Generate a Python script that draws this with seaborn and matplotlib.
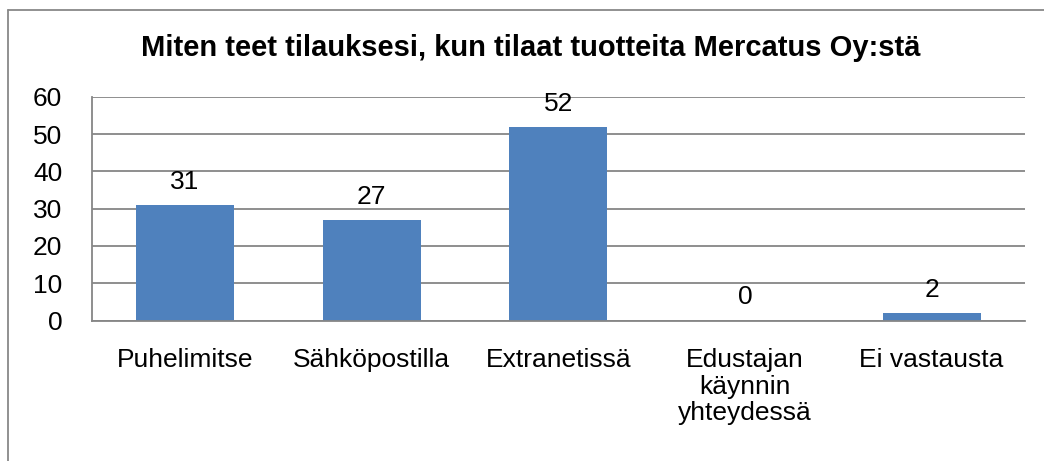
import matplotlib
matplotlib.use("Agg")
import matplotlib.pyplot as plt
import seaborn as sns
import pandas as pd
import numpy as np
from matplotlib.lines import Line2D

categories = ["Puhelimitse", "Sähköpostilla", "Extranetissä", "Edustajan\nkäynnin\nyhteydessä", "Ei vastausta"]
values = [31, 27, 52, 0, 2]
yticks = [0, 10, 20, 30, 40, 50, 60]
title = "Miten teet tilauksesi, kun tilaat tuotteita Mercatus Oy:stä"

sns.set_theme(style="white")
plt.rcParams['font.family'] = ['Liberation Sans', 'DejaVu Sans']

W, H = 1044, 461
fig = plt.figure(figsize=(W / 100, H / 100), dpi=100)
ax = fig.add_axes([91.5 / W, 1 - 320.5 / H, (1025 - 91.5) / W, (320.5 - 96.7) / H])

df = pd.DataFrame({"cat": categories, "val": values})
sns.barplot(data=df, x="cat", y="val", color="#4F81BD", saturation=1, width=0.525,
            linewidth=0, edgecolor="none", ax=ax, zorder=3)

fs = 19
grid_c = "#868686"
ax.set_ylim(0, 60)
ax.set_xlim(-0.5, len(categories) - 0.5)
ax.set_yticks(yticks)
ax.set_yticklabels([str(t) for t in yticks], fontsize=fs)
ax.set_xticks(range(len(categories)))
ax.set_xticklabels(categories, fontsize=fs, linespacing=1.12)
ax.set_xticks(np.arange(-0.5, len(categories), 1.0), minor=True)
ax.tick_params(axis="x", which="major", length=0, pad=20, colors="black")
ax.tick_params(axis="x", which="minor", length=6, width=1.3, color=grid_c, direction="out")
ax.tick_params(axis="y", which="major", length=8, width=1.3, color=grid_c, direction="out", pad=13, colors="black")
ax.tick_params(axis="y", which="major", color=grid_c)
ax.set_xlabel("")
ax.set_ylabel("")
for s in ["top", "right"]:
    ax.spines[s].set_visible(False)
for s in ["left", "bottom"]:
    ax.spines[s].set_color(grid_c)
    ax.spines[s].set_linewidth(1.3)
    ax.spines[s].set_zorder(4)
ax.yaxis.grid(True, color=grid_c, linewidth=1.3, zorder=0)
ax.set_axisbelow(True)

for i, v in enumerate(values):
    ax.annotate(str(v), (i, v), xytext=(0, 11), textcoords="offset pixels",
                ha="center", va="bottom", fontsize=fs, color="black", zorder=5)

fig.text(531 / W, 1 - 48 / H, title, ha="center", va="center", fontsize=21, fontweight="bold", color="black")

frame_c = "#888888"
fig.add_artist(Line2D([8 / W, 1.0], [1 - 10 / H, 1 - 10 / H], color=frame_c, linewidth=1.3, transform=fig.transFigure))
fig.add_artist(Line2D([8 / W, 8 / W], [1 - 10 / H, 0.0], color=frame_c, linewidth=1.3, transform=fig.transFigure))

fig.savefig("out.png", dpi=100)
